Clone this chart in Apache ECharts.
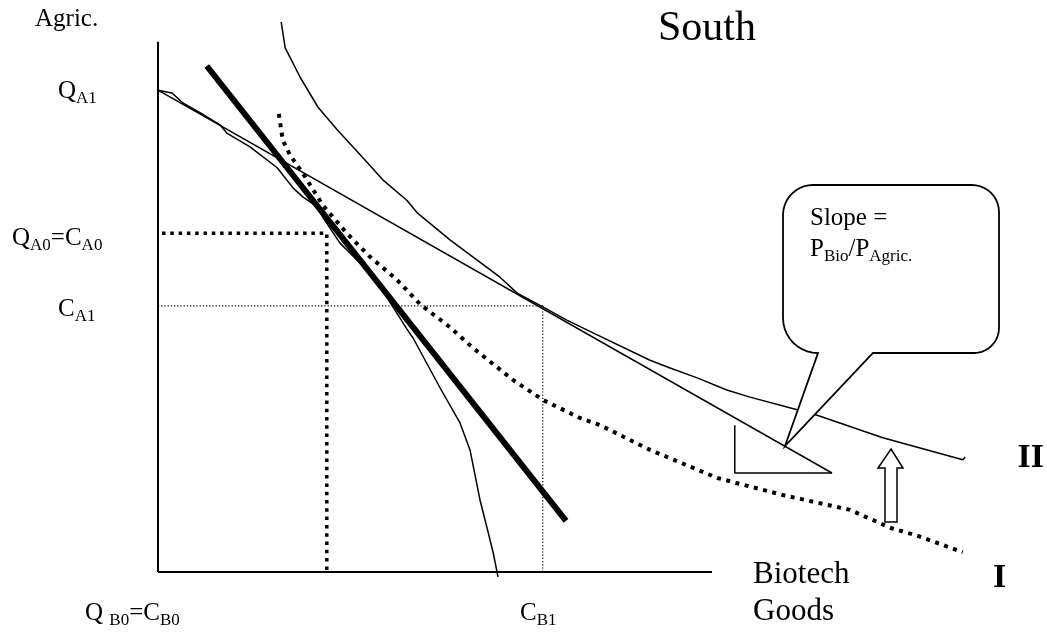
<!DOCTYPE html>
<html><head><meta charset="utf-8">
<script src="https://cdn.jsdelivr.net/npm/echarts@6/dist/echarts.min.js"></script>
<style>html,body{margin:0;padding:0;background:#fff}#c{width:1047px;height:636px}</style>
</head><body><div id="c"></div>
<script>
// ---- data (units: Biotech goods on x, Agric. goods on y) ----
const axisY = [[0,0],[0,96.4]];
const axisX = [[0,0],[69.25,0]];
const ppf = [[0,87.6],[1.75,87.1],[3.1,85.3],[5.25,83.5],[7.75,81.3],[8.6,79.8],[11.5,77.3],[14.9,73.5],[16.9,69.8],[18.1,68.2],[19.9,66.4],[20.6,64.5],[22.75,59.8],[25.25,56.2],[27.75,52.5],[28.5,50.2],[31.1,44.2],[31.9,42.5],[35.25,33.5],[37.75,27.1],[39,22.2],[40.25,13.1],[41.1,8.2],[41.9,3.5],[42.5,-0.9]];
const priceLine = [[0,87.6],[84.25,18]];
const thickLine = [[6.1,92],[51,9.3]];
const curveI = [[15.1,83.3],[15.6,78.5],[16.5,75.8],[18.1,72.5],[20.6,66.7],[23.6,61.6],[26.5,57.3],[29.9,53.1],[32.75,48.7],[36.5,44.5],[39.4,40.7],[44.4,34.9],[48.1,31.3],[52.75,28],[55.25,26.7],[61.5,22.2],[69.9,17.1],[78.1,14.0],[86.5,11.3],[91.6,8.0],[94.9,6.6],[100.6,3.6]];
const curveII = [[15.4,100],[15.9,95.3],[17.75,90],[20,84.5],[22.4,80.4],[25.5,75.5],[28.1,71.3],[31.1,67.6],[32.4,65.3],[36.5,60.4],[42.75,53.6],[44.9,50.7],[48.1,48.2],[51.1,45.8],[54.9,43.1],[61.5,38.5],[64,37.1],[67.4,35.3],[71.1,33.1],[74,31.8],[79.9,29.5],[82.4,28.5],[90.6,24.4],[100.6,20.4],[100.9,20.9]];
const dropA0 = [[0.5,61.6],[21.1,61.6],[21.1,0]];
const dropA1 = [[0,48.4],[48.1,48.4],[48.1,0]];
const triangle = [[72.1,26.7],[72.1,18],[84.25,18]];

const FONT = "'Liberation Serif','Times New Roman',serif";

function ln(data, width, type, z){
  return {type:'line', data, symbol:'none', showSymbol:false, silent:true, clip:false, z: z||2,
    lineStyle:{color:'#000', width, type: type||'solid', cap:'butt', join:'round'}, animation:false};
}
function richStyle(size, bold){
  const sub = Math.round(size*0.68);
  return {
    m:{fontSize:size, fontFamily:FONT, lineHeight:Math.round(size*1.2), verticalAlign:'middle', fill:'#000', fontWeight: bold?'bold':'normal'},
    s:{fontSize:sub, fontFamily:FONT, lineHeight:Math.round(sub*1.05), verticalAlign:'bottom', fill:'#000'}
  };
}
function label(parts, x, baseline, size, align, bold){
  const lh = Math.round(size*1.2);
  const top = baseline - (lh/2 + 0.3375*size);
  return {type:'text', x, y: top, z: 200, silent:true,
    style:{text: parts.map(p=>'{'+p[1]+'|'+p[0]+'}').join(''), rich: richStyle(size,bold),
      align: align||'left', verticalAlign:'top', textAlign: align||'left', textVerticalAlign:'top'}};
}
function arc(cx,cy,r,a0,a1){
  const pts=[]; const n=10;
  for(let i=0;i<=n;i++){const a=(a0+(a1-a0)*i/n)*Math.PI/180; pts.push([cx+r*Math.cos(a), cy+r*Math.sin(a)]);}
  return pts;
}
const bubblePts = [].concat(
  arc(813,215,30,180,270),
  arc(972,212,27,270,360),
  arc(974,328,25,0,90),
  [[873,353],[785,446],[818,353]],
  arc(818,318,35,90,180)
);
const arrowPts = [[891,449],[903,468],[897,468],[897,522],[885,522],[885,468],[878,468]];

const chart = echarts.init(document.getElementById('c'), null, {renderer:'canvas'});
chart.setOption({
  animation:false,
  backgroundColor:'#fff',
  grid:{left:158, top:11, width:840, height:572},
  xAxis:{type:'value', min:0, max:105, show:false},
  yAxis:{type:'value', min:-2, max:102, show:false},
  series:[
    ln(axisY, 2),
    ln(axisX, 2),
    ln(dropA0, 3.5, [3.5,4.8]),
    ln(dropA1, 1.2, [1.2,2]),
    ln(ppf, 1.5),
    ln(priceLine, 1.5),
    ln(triangle, 1.5),
    ln(curveII, 1.5),
    ln(curveI, 4, [4,5.5]),
    ln(thickLine, 6, 'solid', 3)
  ],
  graphic:[
    {type:'polygon', z:100, silent:true, shape:{points:bubblePts}, style:{fill:'#fff', stroke:'#000', lineWidth:1.8}},
    {type:'polygon', z:100, silent:true, shape:{points:arrowPts}, style:{fill:'#fff', stroke:'#000', lineWidth:1.5}},
    label([['South','m']], 658, 43, 42),
    label([['Agric.','m']], 35, 28, 25),
    label([['Q','m'],['A1','s']], 58, 100, 25),
    label([['Q','m'],['A0','s'],['=C','m'],['A0','s']], 12, 247, 25),
    label([['C','m'],['A1','s']], 58, 318, 25),
    label([['Q ','m'],['B0','s'],['=C','m'],['B0','s']], 85, 622, 25),
    label([['C','m'],['B1','s']], 520, 622, 25),
    label([['Biotech','m']], 753, 585, 31),
    label([['Goods','m']], 753, 622, 31),
    label([['II','m']], 1044, 470, 34, 'right', true),
    label([['I','m']], 993, 590, 34, 'left', true),
    label([['Slope =','m']], 810, 227, 25),
    label([['P','m'],['Bio','s'],['/P','m'],['Agric.','s']], 810, 258, 25)
  ]
});
</script></body></html>
